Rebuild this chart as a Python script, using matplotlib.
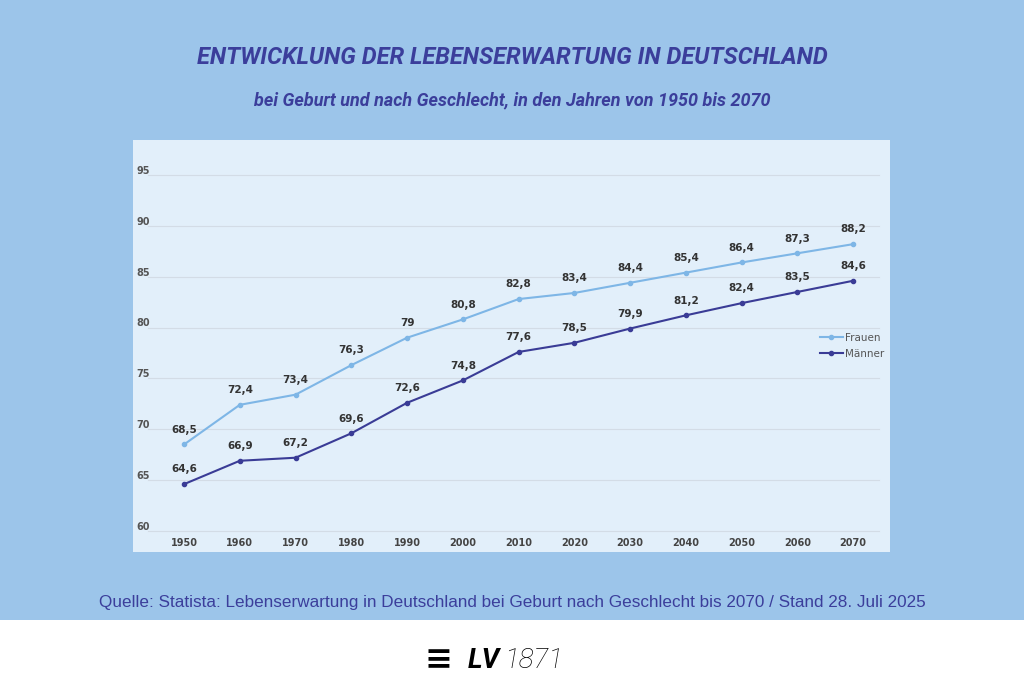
import matplotlib.pyplot as plt
import matplotlib.transforms as mtransforms
from matplotlib.patches import Rectangle

# Daten
jahre = [1950, 1960, 1970, 1980, 1990, 2000, 2010, 2020, 2030, 2040, 2050, 2060, 2070]
frauen = [68.5, 72.4, 73.4, 76.3, 79, 80.8, 82.8, 83.4, 84.4, 85.4, 86.4, 87.3, 88.2]
maenner = [64.6, 66.9, 67.2, 69.6, 72.6, 74.8, 77.6, 78.5, 79.9, 81.2, 82.4, 83.5, 84.6]
y_ticks = [60, 65, 70, 75, 80, 85, 90, 95]

blau_bg = "#9CC5EA"
dunkelblau = "#3B3E9B"
hellblau = "#7EB6E6"
linie_m = "#3A3C96"

def fmt(v):
    return f"{v:g}".replace(".", ",")

fig = plt.figure(figsize=(10.24, 6.91), dpi=100)
fig.patch.set_facecolor(blau_bg)
fig.patches.append(Rectangle((0, 0), 1, 71 / 691, transform=fig.transFigure,
                             facecolor="white", edgecolor="none", zorder=0))

fig.text(0.5, 1 - 57 / 691, "ENTWICKLUNG DER LEBENSERWARTUNG IN DEUTSCHLAND",
         ha="center", va="center", fontsize=17, fontweight="bold", style="italic",
         color=dunkelblau, family="Roboto")
fig.text(0.5, 1 - 100 / 691, "bei Geburt und nach Geschlecht, in den Jahren von 1950 bis 2070",
         ha="center", va="center", fontsize=13, fontweight="bold", style="italic",
         color=dunkelblau, family="Roboto")
fig.text(0.5, 1 - 603 / 691,
         "Quelle: Statista: Lebenserwartung in Deutschland bei Geburt nach Geschlecht bis 2070 / Stand 28. Juli 2025",
         ha="center", va="center", fontsize=12.3, color=dunkelblau, family="Liberation Sans")

# Logo
fig.text(0.5 - 0.012, 1 - 660 / 691, "LV", ha="right", va="center", fontsize=20,
         fontweight="bold", style="italic", color="black", family="Roboto")
fig.text(0.5 - 0.008, 1 - 660 / 691, "1871", ha="left", va="center", fontsize=20,
         fontweight="light", style="italic", color="black", family="Roboto")
fig.text(0.5 - 0.058, 1 - 660 / 691, "\u2261", ha="right", va="center", fontsize=24,
         fontweight="bold", color="black")

ax = fig.add_axes([133 / 1024, 1 - 552 / 691, (890 - 133) / 1024, (552 - 140) / 691])
ax.set_facecolor("#E2EFFA")
ax.set_xlim(1940.85, 2076.6)
ax.set_ylim(57.93, 98.44)
for s in ax.spines.values():
    s.set_visible(False)
ax.set_xticks([])
ax.set_yticks([])
for t in y_ticks:
    ax.axhline(t, xmin=0.02, xmax=0.985, color="#D3DCE6", lw=0.8, zorder=1)

ax.plot(jahre, frauen, color=hellblau, lw=1.5, marker="o", ms=3, label="Frauen", zorder=3)
ax.plot(jahre, maenner, color=linie_m, lw=1.5, marker="o", ms=3, label="Männer", zorder=3)
for x, f, m in zip(jahre, frauen, maenner):
    ax.annotate(fmt(f), (x, f), xytext=(0, 7), textcoords="offset points", ha="center",
                va="bottom", fontsize=7.5, fontweight="bold", color="#333333")
    ax.annotate(fmt(m), (x, m), xytext=(0, 7), textcoords="offset points", ha="center",
                va="bottom", fontsize=7.5, fontweight="bold", color="#333333")

trans_y = mtransforms.blended_transform_factory(ax.transAxes, ax.transData)
for t in y_ticks:
    ax.text(0.005, t + 0.4, str(t), transform=trans_y, ha="left", va="center",
            fontsize=7, fontweight="bold", color="#555555")
for x in jahre:
    ax.text(x, 58.8, str(x), ha="center", va="center", fontsize=7, fontweight="bold",
            color="#444444")

ax.legend(loc="upper left", bbox_to_anchor=(0.895, 0.555), frameon=False, fontsize=7.5,
          handlelength=2.2, handletextpad=0.2, labelcolor="#555555", labelspacing=0.6)

fig.savefig("out.png", dpi=100, facecolor=fig.get_facecolor())
